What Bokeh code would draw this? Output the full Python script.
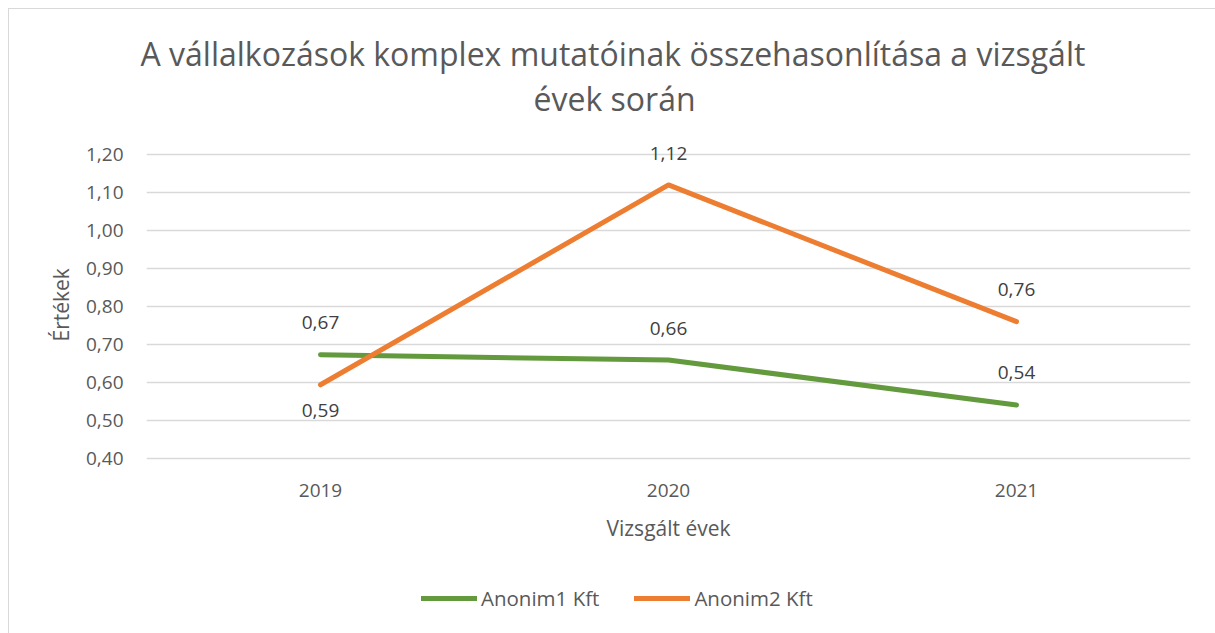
from bokeh.plotting import figure
from bokeh.models import (ColumnDataSource, LabelSet, Label, Legend, LegendItem, Title,
                          FixedTicker, CustomJSTickFormatter, FactorRange, Range1d)
from bokeh.core.properties import value
from bokeh.embed import file_html
from bokeh.resources import INLINE

years = ["2019", "2020", "2021"]
anonim1 = [0.673, 0.659, 0.541]
anonim2 = [0.594, 1.12, 0.76]
series_names = ["Anonim1 Kft", "Anonim2 Kft"]
y_ticks = [0.4, 0.5, 0.6, 0.7, 0.8, 0.9, 1.0, 1.1, 1.2]
title_lines = ["A vállalkozások komplex mutatóinak összehasonlítása a vizsgált", "évek során"]
x_title = "Vizsgált évek"
y_title = "Értékek"

# label placement (pixels, screen offsets; positive = up)
offs1 = [32, 32, 32]
offs2 = [-26, 31, 32]

FONT = "Open Sans"
TXT = "#595959"
GREEN = "#639A3D"
ORANGE = "#ED7D31"

# The plotting frame is extended beyond the gridded area (35px above, 162px below)
# so that data labels, category labels and the legend are drawn inside it unclipped.
PX_PER_UNIT = 304 / 0.8
EXTRA_TOP = 35
EXTRA_BOTTOM = 162
p = figure(x_range=FactorRange(*years),
           y_range=Range1d(y_ticks[0] - EXTRA_BOTTOM / PX_PER_UNIT,
                           y_ticks[-1] + EXTRA_TOP / PX_PER_UNIT),
           frame_width=1044, frame_height=304 + EXTRA_TOP + EXTRA_BOTTOM,
           min_border_left=137, min_border_right=25, min_border_top=110, min_border_bottom=13,
           output_backend="svg", toolbar_location=None)
p.styles = {"margin-left": "8px", "margin-top": "8px",
            "border-left": "1px solid #d9d9d9", "border-top": "1px solid #d9d9d9"}
p.outline_line_color = None
p.background_fill_color = "white"
p.border_fill_color = "white"

p.xaxis.visible = False
p.xgrid.grid_line_color = None
p.ygrid.grid_line_color = "#d9d9d9"
p.ygrid.grid_line_width = 1.5
p.yaxis.ticker = FixedTicker(ticks=y_ticks)
p.yaxis.formatter = CustomJSTickFormatter(code="return tick.toFixed(2).replace('.', ',');")

ax = p.yaxis[0]
ax.major_tick_line_color = None
ax.minor_tick_line_color = None
ax.major_tick_out = 0
ax.major_tick_in = 0
ax.major_label_text_font = FONT
ax.major_label_text_font_size = "19px"
ax.major_label_text_color = TXT
ax.axis_line_color = None
ax.major_label_standoff = 23

# y-axis title as a left-side Title, positioned on the gridded area
p.add_layout(Title(text=y_title, align="left", offset=117 + EXTRA_BOTTOM, standoff=16,
                   text_font=FONT, text_font_size="21px", text_color=TXT,
                   text_font_style="normal"), "left")

r1 = p.line(years, anonim1, line_color=GREEN, line_width=5, line_cap="round", line_join="round")
r2 = p.line(years, anonim2, line_color=ORANGE, line_width=5, line_cap="round", line_join="round")

# category axis labels and axis title
cat_src = ColumnDataSource(dict(x=years, y=[y_ticks[0]] * len(years), t=years))
p.add_layout(LabelSet(x="x", y="y", text="t", source=cat_src, y_offset=-32,
                      text_align="center", text_baseline="middle",
                      text_font=value(FONT), text_font_size="19px", text_color=TXT))
p.add_layout(Label(x=len(years) / 2, y=y_ticks[0], y_offset=-69, text=x_title,
                   text_align="center", text_baseline="middle",
                   text_font=FONT, text_font_size="21px", text_color=TXT))

def fmt(v):
    return f"{v:.2f}".replace(".", ",")

src = ColumnDataSource(dict(
    x=years + years,
    y=anonim1 + anonim2,
    t=[fmt(v) for v in anonim1 + anonim2],
    off=offs1 + offs2,
))
p.add_layout(LabelSet(x="x", y="y", text="t", source=src, y_offset="off",
                      text_align="center", text_baseline="middle",
                      text_font=value(FONT), text_font_size="19px", text_color="#404040"))

# title: two lines stacked above the frame (later added = higher)
p.add_layout(Title(text=title_lines[1], align="left", offset=387, standoff=0,
                   text_font=FONT, text_font_size="32px", text_color=TXT,
                   text_font_style="normal"), "above")
p.add_layout(Title(text=title_lines[0], align="left", offset=-6, standoff=0,
                   text_font=FONT, text_font_size="32px", text_color=TXT,
                   text_font_style="normal"), "above")

legend = Legend(items=[LegendItem(label=series_names[0], renderers=[r1]),
                       LegendItem(label=series_names[1], renderers=[r2])],
                location=(275, 8), orientation="horizontal",
                glyph_width=56, label_standoff=4, spacing=35, padding=0, margin=0,
                border_line_color=None, background_fill_alpha=0,
                label_text_font=FONT, label_text_font_size="20.5px", label_text_color=TXT)
p.add_layout(legend, "center")

open("out.html", "w").write(file_html(p, INLINE))
